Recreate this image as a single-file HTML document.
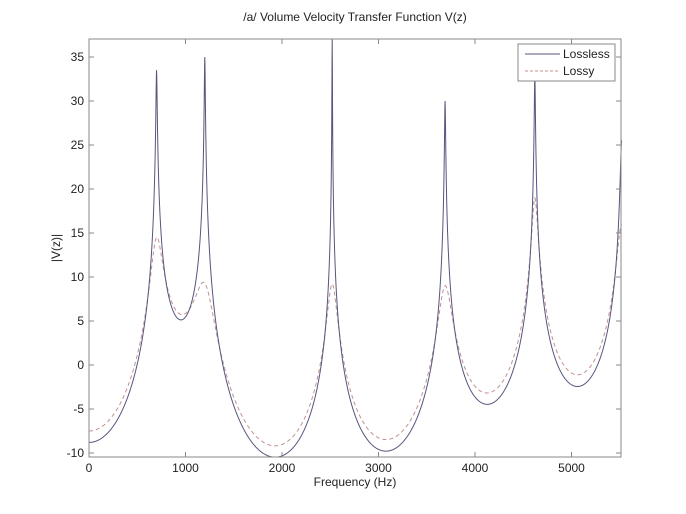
<!DOCTYPE html>
<html><head><meta charset="utf-8"><style>
html,body{margin:0;padding:0;background:#fff;}
svg{display:block;font-family:"Liberation Sans",sans-serif;}
</style></head><body>
<svg id="s" width="686" height="514" xmlns="http://www.w3.org/2000/svg">
<rect width="686" height="514" fill="#fff"/>
<text x="355" y="21" font-size="12" text-anchor="middle" fill="#222">/a/ Volume Velocity Transfer Function V(z)</text>
<text x="355" y="486" font-size="12" text-anchor="middle" fill="#222">Frequency (Hz)</text>
<text transform="translate(60,248) rotate(-90)" font-size="12" text-anchor="middle" fill="#222">|V(z)|</text>
<g id="plot"></g>
<rect x="89" y="39" width="532" height="418" fill="none" stroke="#888" stroke-width="1"/>
<g id="ticks" font-size="12" fill="#222"></g>
<rect x="518" y="44" width="97" height="37" fill="#fff" stroke="#888"/>
<line x1="525" y1="54" x2="560" y2="54" stroke="#55557f"/>
<line x1="525" y1="71" x2="560" y2="71" stroke="#c09090" stroke-dasharray="3,2"/>
<text x="563" y="58" font-size="12" fill="#222">Lossless</text>
<text x="563" y="75" font-size="12" fill="#222">Lossy</text>
</svg>
<script>
var NS="http://www.w3.org/2000/svg";
function X(f){return 89+f*0.0965;}
function Y(v){return 365-v*8.8;}
var tk=document.getElementById('ticks');
function el(t,a,p){var e=document.createElementNS(NS,t);for(var k in a)e.setAttribute(k,a[k]);(p||tk).appendChild(e);return e;}
for(var v=-10;v<=35;v+=5){var y=Y(v);el('line',{x1:89,y1:y,x2:94,y2:y,stroke:'#888'});el('line',{x1:616,y1:y,x2:621,y2:y,stroke:'#888'});var t=el('text',{x:84,y:y+4,'text-anchor':'end'});t.textContent=v;}
for(var f=0;f<=5000;f+=1000){var x=X(f);el('line',{x1:x,y1:457,x2:x,y2:452,stroke:'#888'});el('line',{x1:x,y1:39,x2:x,y2:44,stroke:'#888'});var t=el('text',{x:x,y:472,'text-anchor':'middle'});t.textContent=f;}
var FS=11040;
var F=[700,1200,2520,3690,4620,5520];
function raw(B,f){var w=2*Math.PI*f/FS,s=0;
 for(var k=0;k<5;k++){var r=Math.exp(-Math.PI*B[k]/FS),c=Math.cos(2*Math.PI*F[k]/FS);
  var re=1-2*r*c*Math.cos(w)+r*r*Math.cos(2*w),im=2*r*c*Math.sin(w)-r*r*Math.sin(2*w);s-=10*Math.log10(re*re+im*im);}
 var r6=Math.exp(-Math.PI*B[5]/FS);var re=1+r6*Math.cos(w),im=-r6*Math.sin(w);s-=10*Math.log10(re*re+im*im);
 return s;}
function resp(B,f,off){return raw(B,f)-raw(B,0)+off;}
function fit(B,tg,off){for(var it=0;it<200;it++){for(var k=0;k<6;k++){var d=tg[k]-resp(B,F[k],off);B[k]*=Math.pow(10,-d/40);}}return B;}
var B1=fit([20,20,20,20,20,300],[33.5,35,40,30,33,25.5],-8.8);
var B2=fit([100,100,100,100,100,600],[14.5,9.3,9.2,9,19,16],-7.5);
function path(B,off){var d='';for(var f=0;f<=5520;f+=2){var y=Y(resp(B,f,off));y=Math.max(39,Math.min(457,y));d+=(f?'L':'M')+X(f).toFixed(2)+','+y.toFixed(2);}return d;}
var g=document.getElementById('plot');
el('path',{d:path(B2,-7.5),fill:'none',stroke:'#c09090','stroke-dasharray':'4,3'},g);
el('path',{d:path(B1,-8.8),fill:'none',stroke:'#55557f'},g);
</script>
</body></html>
